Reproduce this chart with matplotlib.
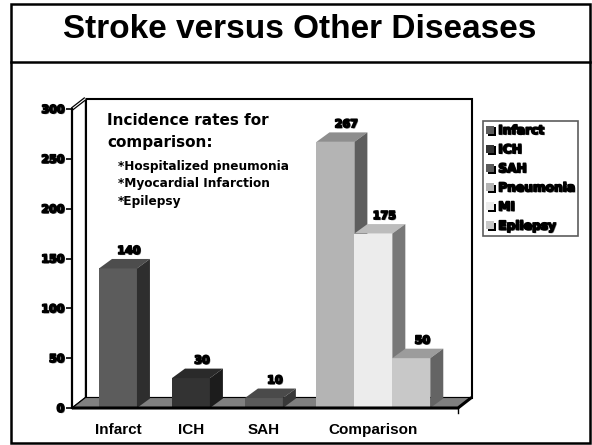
import numpy as np
import matplotlib
matplotlib.use('Agg')
import matplotlib.pyplot as plt
from matplotlib.patches import Polygon, Rectangle, Patch
import matplotlib.patheffects as pe

# data
categories = ['Infarct', 'ICH', 'SAH', 'Comparison']
series = ['Infarct', 'ICH', 'SAH', 'Pneumonia', 'MI', 'Epilepsy']
values = [140, 30, 10, 267, 175, 50]
series_cat = [0, 1, 2, 3, 3, 3]
yticks = [0, 50, 100, 150, 200, 250, 300]
note_head = ['Incidence rates for', 'comparison:']
note_items = ['*Hospitalized pneumonia', '*Myocardial Infarction', '*Epilepsy']

# face colours: front / top / side
front = ['#5c5c5c', '#333333', '#5a5a5a', '#b4b4b4', '#ececec', '#c8c8c8']
top = ['#4d4d4d', '#2a2a2a', '#4a4a4a', '#8e8e8e', '#bcbcbc', '#9c9c9c']
side = ['#2e2e2e', '#1c1c1c', '#383838', '#5e5e5e', '#787878', '#646464']

cat_x = [0, 1, 2, 3.5]   # group centres
bw = 0.52

heavy = [pe.SimplePatchShadow(offset=(0.8, -0.8), shadow_rgbFace='#808080', alpha=1),
         pe.Stroke(linewidth=1.2, foreground='black'), pe.Normal()]

W, H = 592, 445
fig = plt.figure(figsize=(W / 100, H / 100), dpi=100)

# slide frame and title
bg = fig.add_axes([0, 0, 1, 1])
bg.set_xlim(0, W)
bg.set_ylim(H, 0)
bg.axis('off')
bg.add_patch(Rectangle((10.5, 4), 579.5, 439, fill=False, lw=1.8, ec='black'))
bg.plot([10.5, 590], [62, 62], color='black', lw=1.8)
bg.text(300, 30, 'Stroke versus Other Diseases', ha='center', va='center',
        fontsize=24, fontweight='bold', family='Liberation Sans')

# front plane of the plot area
L, R, B, T = 72, 458, 408, 109
ax = fig.add_axes([L / W, 1 - B / H, (R - L) / W, (B - T) / H])
ax.patch.set_visible(False)
x0, x1 = -0.63, 4.66
ax.set_xlim(x0, x1)
ax.set_ylim(0, 300)
px_x = (R - L) / (x1 - x0)
px_y = (B - T) / 300.0

# walls and floor
wx, wy = 13.5 / px_x, 10.5 / px_y
ax.add_patch(Rectangle((x0 + wx, wy), x1 - x0, 300, fc='white', ec='black',
                       lw=1.5, clip_on=False, zorder=0.5))
ax.add_patch(Polygon([(x0, 0), (x0 + wx, wy), (x0 + wx, 300 + wy), (x0, 300)],
                     fc='white', ec='black', lw=1.0, clip_on=False, zorder=0.6))
ax.plot([x0, x0 + wx], [300, 300 + wy], color='black', lw=2.6, clip_on=False, zorder=0.7,
        solid_capstyle='butt')
ax.plot([x0, x0 + wx], [300, 300 + wy], color='white', lw=0.8, clip_on=False, zorder=0.8,
        solid_capstyle='butt')
ax.add_patch(Polygon([(x0, 0), (x1, 0), (x1 + wx, wy), (x0 + wx, wy)],
                     fc='#808080', ec='black', lw=0.8, clip_on=False, zorder=1))

# 3d bars
bx, by = 13 / px_x, 9.5 / px_y
z = 2
for c in range(len(categories)):
    members = [i for i in range(len(series)) if series_cat[i] == c]
    n = len(members)
    for k, i in enumerate(members):
        xc = cat_x[c] + (k - (n - 1) / 2) * bw
        xa, xb = xc - bw / 2, xc + bw / 2
        v = values[i]
        ax.add_patch(Rectangle((xa, 0), bw, v, fc=front[i], ec='none', zorder=z, clip_on=False))
        ax.add_patch(Polygon([(xa, v), (xb, v), (xb + bx, v + by), (xa + bx, v + by)],
                             fc=top[i], ec='none', zorder=z, clip_on=False))
        ax.add_patch(Polygon([(xb, 0), (xb + bx, by), (xb + bx, v + by), (xb, v)],
                             fc=side[i], ec='none', zorder=z, clip_on=False))
        z += 0.01
        t = ax.annotate(str(v), (xc, v), xytext=(11 * 0.72, 12.5 * 0.72),
                        textcoords='offset points', ha='center', va='bottom',
                        fontsize=8, fontweight='bold', family='DejaVu Sans', zorder=5)
        t.set_path_effects(heavy)

ax.plot([x0, x1, x1 + wx], [0, 0, wy], color='black', lw=2.2, clip_on=False, zorder=4,
        solid_capstyle='butt')
ax.plot([x1, x1], [0, -5 / px_y], color='black', lw=1.0, clip_on=False, zorder=4)

# axes
for s in ['top', 'right', 'bottom']:
    ax.spines[s].set_visible(False)
ax.spines['left'].set_linewidth(1.6)
ax.spines['left'].set_zorder(4)
ax.set_yticks(yticks)
ax.tick_params(axis='y', direction='out', length=4, width=1.2, pad=1.5)
for lab in ax.get_yticklabels():
    lab.set_fontsize(8)
    lab.set_fontweight('bold')
    lab.set_family('DejaVu Sans')
    lab.set_path_effects(heavy)
ax.set_xticks(cat_x, categories)
ax.tick_params(axis='x', length=0, pad=11)
for lab in ax.get_xticklabels():
    lab.set_fontsize(11)
    lab.set_fontweight('bold')
    lab.set_family('Liberation Sans')

# note
for j, s in enumerate(note_head):
    fig.text(107 / W, 1 - (125 + 22 * j) / H, s, va='baseline', ha='left',
             fontsize=11, fontweight='bold', family='DejaVu Sans')
for j, s in enumerate(note_items):
    fig.text(118 / W, 1 - (170 + 17.5 * j) / H, s, va='baseline', ha='left',
             fontsize=8.7, fontweight='bold', family='DejaVu Sans')

# legend
shadow = [pe.SimplePatchShadow(offset=(1.2, -1.2), shadow_rgbFace='black', alpha=1), pe.Normal()]
handles = [Patch(facecolor=front[i], edgecolor='none', path_effects=shadow) for i in range(len(series))]
leg = fig.legend(handles, series, loc='upper left', bbox_to_anchor=(483 / W, 1 - 121 / H),
                 frameon=True, fancybox=False, edgecolor='#333333', borderpad=0.25,
                 borderaxespad=0, handlelength=0.65, handleheight=0.65, handletextpad=0.35,
                 labelspacing=0.5, prop={'family': 'DejaVu Sans', 'weight': 'bold', 'size': 8.8})
leg.get_frame().set_linewidth(1.2)
for t in leg.get_texts():
    t.set_path_effects(heavy)

fig.savefig('out.png', dpi=100)
